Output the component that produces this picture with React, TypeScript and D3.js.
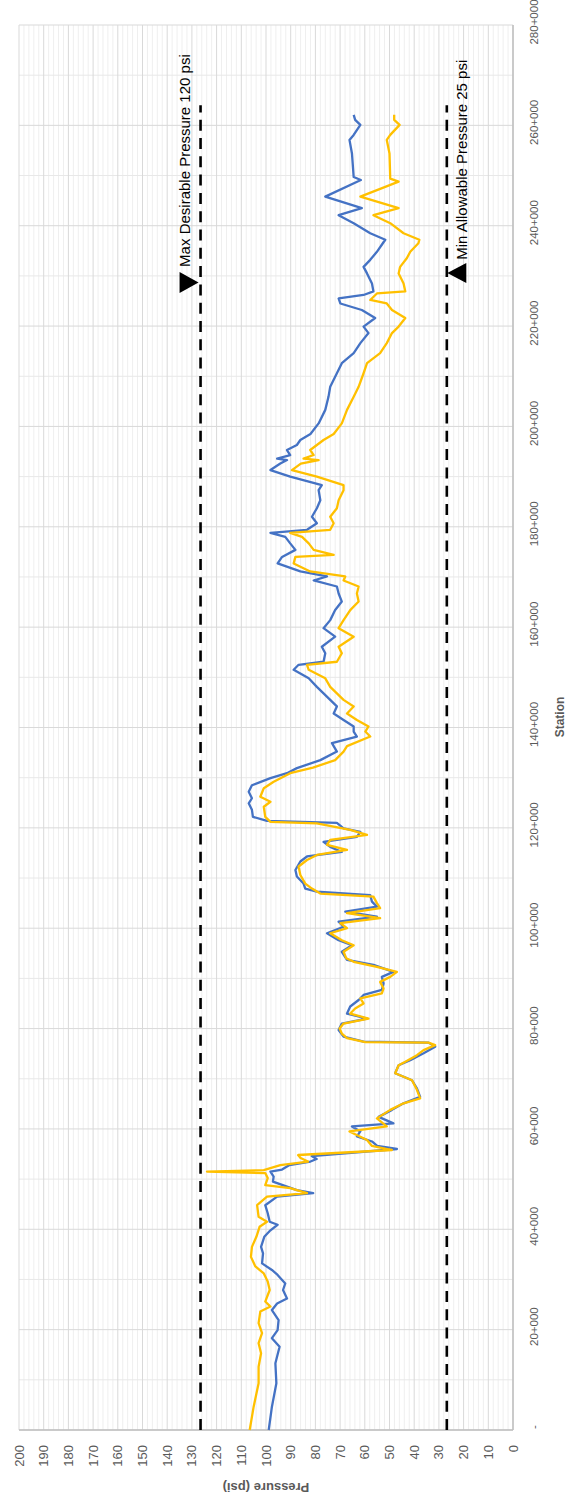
import React from 'react';
import * as d3 from 'd3';

// chart is drawn landscape (station across, pressure up) and then turned -90deg
const stationTicks = [0, 20, 40, 60, 80, 100, 120, 140, 160, 180, 200, 220, 240, 260, 280];
const pressureTicks = [200, 190, 180, 170, 160, 150, 140, 130, 120, 110, 100, 90, 80, 70, 60, 50, 40, 30, 20, 10, 0];

const maxDesirable = 126.5;
const minAllowable = 26.8;
const limitEnd = 264;

// station in thousands
const blueStation = [
  0, 4.65, 9.3, 13.3, 16.6, 18.3, 19.9, 21.9, 23.9, 25.2, 26.2, 27.9, 29.2, 30.9, 31.9, 33.2, 35.2, 36.5, 38.5, 39.8,
  40.9, 41.5, 43.2, 44.8, 46.5, 47.2, 47.8, 48.5, 49.5, 50.5, 51.5, 51.9, 52.8, 53.5, 54.0, 54.6, 56.0, 56.6, 57.5, 58.5,
  59.5, 60.5, 61.1, 62.4, 63.8, 65.1, 66.4, 68.1, 69.7, 71.1, 72.7, 73.7, 75.1, 76.4, 77.2, 77.4, 78.4, 79.7, 81.0, 82.0,
  83.0, 84.4, 85.7, 86.7, 87.7, 89.0, 90.3, 91.3, 92.7, 93.7, 95.3, 96.6, 97.6, 99.0, 100.3, 101.3, 102.3, 103.3, 104.3, 105.3,
  106.6, 107.3, 107.9, 108.9, 110.3, 111.6, 113.3, 114.3, 115.2, 116.2, 117.2, 118.2, 119.2, 119.9, 121.0, 121.4, 122.2, 123.6, 124.9, 125.9,
  127.2, 128.5, 129.9, 130.9, 131.9, 133.5, 135.2, 136.9, 138.2, 139.2, 140.2, 141.5, 142.8, 144.2, 145.5, 146.8, 148.1, 149.8, 151.5, 152.5,
  153.1, 154.8, 156.1, 158.1, 159.8, 161.4, 163.4, 165.1, 166.7, 168.1, 169.3, 170.1, 171.1, 172.7, 174.0, 175.4, 176.7, 178.0, 178.8, 179.4,
  180.7, 182.0, 183.7, 185.3, 187.3, 188.3, 190.0, 191.3, 192.6, 193.3, 193.6, 194.3, 195.3, 196.3, 197.3, 198.5, 200.6, 203.3, 205.9, 207.9,
  210.6, 212.6, 214.6, 216.6, 218.6, 219.9, 221.6, 223.2, 224.5, 225.5, 226.2, 226.9, 228.5, 230.5, 231.8, 233.2, 234.8, 236.5, 237.2, 238.5,
  240.5, 242.1, 243.5, 245.8, 249.1, 249.7, 254.4, 257.1, 258.1, 260.1, 261.1, 262.1,
];
const bluePressure = [
  98.9, 97.6, 95.8, 96.2, 94.5, 97.6, 95.3, 94.9, 97.6, 95.5, 91.5, 93.1, 92.2, 95.3, 97.6, 101.6, 101.2, 102.0, 100.7, 98.2,
  95.3, 98.5, 99.3, 100.3, 95.5, 80.9, 87.5, 91.5, 97.2, 96.9, 98.2, 93.5, 90.5, 82.0, 79.5, 81.5, 47.0, 55.0, 57.1, 63.2,
  61.8, 65.2, 48.4, 54.4, 49.0, 44.3, 37.6, 38.9, 40.9, 47.7, 46.3, 41.6, 36.2, 31.5, 34.2, 60.5, 68.6, 70.6, 69.3, 59.1,
  67.2, 65.9, 62.5, 60.5, 53.1, 52.4, 53.1, 48.4, 56.5, 67.2, 69.3, 65.2, 70.6, 75.3, 68.6, 70.6, 55.1, 67.9, 55.1, 57.1,
  57.8, 79.4, 84.1, 84.8, 87.5, 88.1, 86.1, 83.4, 69.3, 74.0, 76.7, 63.2, 61.8, 68.6, 71.3, 99.6, 105.3, 105.7, 107.0, 105.7,
  107.0, 105.7, 98.2, 91.5, 87.5, 78.0, 71.3, 73.3, 63.2, 64.5, 64.5, 68.6, 72.6, 71.3, 74.0, 76.7, 79.4, 82.7, 88.8, 86.8,
  76.7, 76.0, 77.4, 72.0, 76.7, 74.0, 72.0, 69.3, 70.6, 71.3, 80.7, 75.3, 86.1, 95.3, 93.5, 88.1, 90.2, 92.2, 98.2, 83.4,
  79.4, 81.4, 79.4, 78.0, 78.7, 77.4, 90.2, 98.2, 94.2, 91.5, 95.5, 90.2, 91.5, 87.5, 86.1, 82.0, 78.7, 76.0, 74.7, 74.0,
  71.3, 69.3, 64.5, 61.8, 58.5, 60.5, 55.8, 61.2, 69.9, 70.6, 60.5, 56.5, 57.1, 59.1, 60.5, 57.8, 55.1, 52.7, 51.7, 57.8,
  64.5, 70.6, 61.2, 76.0, 61.6, 64.5, 65.2, 66.2, 64.5, 61.8, 63.9, 64.5,
];

const goldStation = [
  0, 4.65, 9.3, 12.6, 15.3, 17.3, 19.3, 21.3, 23.6, 24.6, 25.6, 27.9, 29.6, 31.2, 32.6, 34.5, 36.5, 38.5, 40.5, 41.5,
  42.5, 44.8, 46.5, 47.2, 48.2, 48.8, 50.2, 51.2, 51.5, 51.8, 52.8, 53.5, 54.2, 54.8, 55.8, 56.6, 57.8, 59.5, 60.5, 62.1,
  63.8, 65.1, 66.1, 67.8, 69.7, 71.1, 72.7, 73.4, 74.7, 75.7, 76.7, 77.2, 77.3, 78.1, 79.0, 80.0, 81.0, 82.0, 83.0, 84.0,
  85.0, 86.0, 87.0, 88.0, 89.3, 90.3, 91.3, 92.3, 93.3, 94.0, 95.3, 96.6, 97.6, 99.0, 100.0, 101.0, 102.0, 103.0, 104.0, 105.0,
  106.3, 106.9, 107.9, 108.9, 110.6, 112.3, 113.6, 114.6, 115.6, 116.6, 117.6, 118.6, 119.6, 120.9, 121.2, 122.2, 124.2, 125.2, 126.2, 127.9,
  129.2, 130.9, 132.0, 133.5, 135.2, 136.3, 138.2, 139.2, 140.2, 141.5, 142.8, 144.2, 145.5, 146.8, 148.1, 149.8, 151.5, 152.5, 153.1, 154.8,
  156.1, 158.1, 159.8, 161.4, 163.4, 165.1, 166.7, 168.1, 169.3, 170.1, 171.1, 172.7, 174.0, 174.4, 175.4, 176.7, 178.0, 178.8, 179.4, 180.7,
  182.0, 183.7, 185.3, 187.3, 188.3, 190.0, 191.3, 192.6, 193.3, 193.6, 194.3, 195.3, 196.3, 197.3, 198.5, 200.6, 203.3, 205.9, 207.9, 210.6,
  212.6, 214.6, 216.6, 218.6, 219.9, 221.6, 223.2, 224.5, 225.2, 226.5, 226.9, 228.5, 230.5, 231.8, 233.5, 234.8, 236.5, 237.2, 238.5, 240.5,
  242.1, 243.5, 245.8, 248.8, 249.4, 254.4, 257.1, 258.1, 260.1, 261.1, 262.1,
];
const goldPressure = [
  106.6, 105.0, 103.0, 103.0, 102.0, 103.0, 101.6, 103.0, 102.3, 98.2, 100.3, 98.5, 99.3, 100.9, 104.3, 106.1, 105.7, 103.9, 102.6, 99.6,
  103.0, 103.6, 99.6, 83.4, 90.2, 100.3, 99.3, 100.3, 123.9, 100.9, 94.2, 83.0, 86.0, 87.0, 49.0, 57.1, 59.1, 66.2, 51.1, 55.1,
  49.7, 44.3, 37.6, 38.9, 40.9, 47.7, 46.3, 43.6, 38.9, 36.2, 31.5, 34.2, 59.8, 67.2, 69.3, 70.2, 68.6, 58.5, 65.9, 63.9,
  60.5, 61.8, 53.1, 52.4, 53.8, 49.7, 47.0, 55.1, 64.5, 67.5, 68.6, 64.5, 69.3, 74.0, 67.2, 69.9, 53.8, 67.2, 53.8, 55.1,
  56.5, 78.0, 81.4, 84.1, 86.1, 86.8, 83.4, 79.4, 67.2, 75.3, 74.0, 59.1, 65.9, 79.4, 98.2, 100.3, 100.9, 98.2, 102.3, 100.9,
  96.9, 90.2, 81.0, 72.0, 68.6, 67.2, 57.8, 59.8, 58.5, 63.2, 67.2, 64.5, 68.6, 71.3, 74.0, 76.0, 82.7, 83.4, 71.3, 69.3,
  70.6, 64.5, 70.6, 68.6, 65.9, 62.5, 63.2, 62.5, 68.6, 67.9, 82.1, 88.8, 88.1, 72.6, 80.7, 82.7, 85.4, 90.2, 74.0, 72.6,
  74.0, 71.3, 70.6, 68.6, 68.6, 79.4, 89.5, 85.9, 78.7, 84.8, 80.7, 82.1, 79.4, 76.7, 72.6, 69.3, 67.2, 64.5, 62.5, 60.5,
  59.1, 53.8, 51.1, 49.0, 46.3, 43.6, 49.0, 51.1, 57.8, 55.1, 43.6, 44.3, 46.3, 45.7, 43.0, 41.6, 38.3, 37.9, 44.3, 49.7,
  56.5, 46.3, 61.8, 46.3, 49.7, 50.0, 51.1, 49.7, 45.9, 48.1, 48.1,
];

const font = '"Liberation Sans", Arial, sans-serif';
const textColor = '#595959';

const App = () => {
  const x = d3.scaleLinear().domain([0, 280]).range([82, 1487]);
  const y = d3.scaleLinear().domain([0, 200]).range([513, 19]);

  const line = d3.line<[number, number]>()
    .x((d) => x(d[0]))
    .y((d) => y(d[1]));

  const bluePts = blueStation.map((s, i) => [s, bluePressure[i]] as [number, number]);
  const goldPts = goldStation.map((s, i) => [s, goldPressure[i]] as [number, number]);

  const minorP = d3.range(0, 201, 2).filter((p) => p % 10 !== 0);
  const minorS = d3.range(10, 280, 20);

  const yMax = y(maxDesirable);
  const yMin = y(minAllowable);
  const triMaxX = x(228.7);
  const triMinX = x(230.6);

  return (
    <svg width={571} height={1512} style={{ position: 'absolute', left: 0, top: 0 }} fontFamily={font}>
      <rect width={571} height={1512} fill="#fff" />
      <g transform="translate(0,1512) rotate(-90)">
        {/* grid */}
        {minorP.map((p) => (
          <line key={'mp' + p} x1={x(0)} x2={x(280)} y1={y(p)} y2={y(p)} stroke="#efefef" strokeWidth={1} />
        ))}
        {minorS.map((s) => (
          <line key={'ms' + s} x1={x(s)} x2={x(s)} y1={y(0)} y2={y(200)} stroke="#e8e8e8" strokeWidth={1} />
        ))}
        {pressureTicks.map((p) => (
          <line key={'gp' + p} x1={x(0)} x2={x(280)} y1={y(p)} y2={y(p)} stroke="#d9d9d9" strokeWidth={1} />
        ))}
        {stationTicks.map((s) => (
          <line key={'gs' + s} x1={x(s)} x2={x(s)} y1={y(0)} y2={y(200)} stroke="#d9d9d9" strokeWidth={1} />
        ))}
        <line x1={x(0)} x2={x(0)} y1={y(0)} y2={y(200)} stroke="#bfbfbf" strokeWidth={1.5} />
        <line x1={x(0)} x2={x(280)} y1={y(0)} y2={y(0)} stroke="#bfbfbf" strokeWidth={1.5} />

        {/* limits */}
        <line x1={x(0)} x2={x(limitEnd)} y1={yMax} y2={yMax} stroke="#000" strokeWidth={2.6} strokeDasharray="11,7.3" />
        <line x1={x(0)} x2={x(limitEnd)} y1={yMin} y2={yMin} stroke="#000" strokeWidth={2.6} strokeDasharray="11,7.3" />

        {/* series */}
        <path d={line(bluePts) || ''} fill="none" stroke="#4472C4" strokeWidth={2.3} strokeLinejoin="round" />
        <path d={line(goldPts) || ''} fill="none" stroke="#FFC000" strokeWidth={2.3} strokeLinejoin="round" />

        {/* labels on the limits */}
        <path
          d={`M${triMaxX - 10.5},${yMax - 21} L${triMaxX + 10.5},${yMax - 21} L${triMaxX},${yMax - 2} Z`}
          fill="#000"
        />
        <text x={x(231.8)} y={yMax - 10.5} fontSize={15} fill="#000">
          Max Desirable Pressure 120 psi
        </text>
        <path
          d={`M${triMinX - 10},${yMin + 19.5} L${triMinX + 10},${yMin + 19.5} L${triMinX},${yMin + 0.5} Z`}
          fill="#000"
        />
        <text x={x(233.2)} y={yMin + 20} fontSize={15} fill="#000">
          Min Allowable Pressure 25 psi
        </text>

        {/* axes */}
        {pressureTicks.map((p) => (
          <text key={'tp' + p} x={x(0) - 15} y={y(p)} dy="0.35em" textAnchor="end" fontSize={13} fill={textColor}>
            {p}
          </text>
        ))}
        {stationTicks.map((s) => (
          <text key={'ts' + s} x={x(s) + 3} y={y(0) + 25} textAnchor="middle" fontSize={11.5} fill={textColor}>
            {s === 0 ? '-' : `${s}+000`}
          </text>
        ))}
        <text
          transform={`translate(29,${(y(0) + y(200)) / 2}) rotate(-90)`}
          textAnchor="middle"
          fontSize={13}
          fontWeight="bold"
          fill={textColor}
        >
          Pressure (psi)
        </text>
        <text x={795} y={564} textAnchor="middle" fontSize={12} fontWeight="bold" fill={textColor}>
          Station
        </text>
      </g>
    </svg>
  );
};

export default App;
